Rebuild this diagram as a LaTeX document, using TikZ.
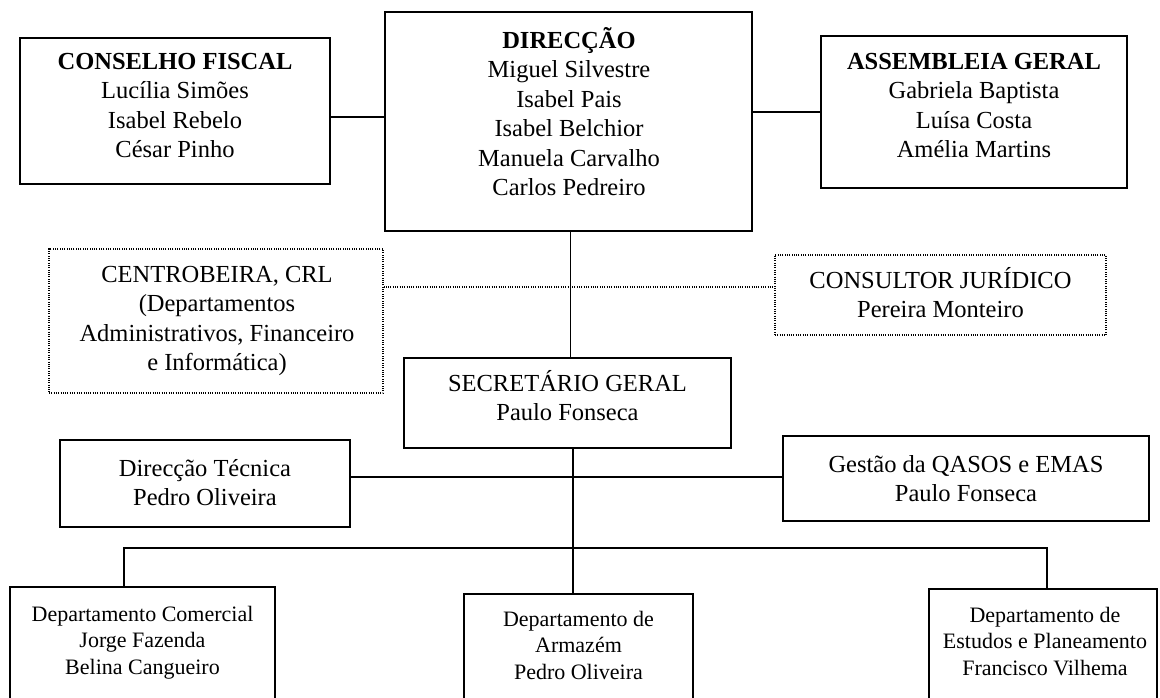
\documentclass[tikz,border=0pt]{standalone}
\usepackage{fontspec}
\setmainfont{Liberation Serif}
\begin{document}
\begin{tikzpicture}[x=1pt,y=-1pt,
  box/.style={draw, line width=1.7pt, inner sep=0pt},
  dbox/.style={draw, line width=1.1pt, dash pattern=on 1pt off 1.3pt, inner sep=0pt},
  txt/.style={anchor=north, inner sep=0pt, align=center, font=\fontsize{24.5}{29.5}\selectfont},
  stxt/.style={anchor=north, inner sep=0pt, align=center, font=\fontsize{22}{26.5}\selectfont},
  conn/.style={line width=1.7pt},
  thin/.style={line width=1pt},
  dline/.style={line width=1.1pt, dash pattern=on 1pt off 1.3pt}]
\useasboundingbox (0,0) rectangle (1160,698);
\fill[white] (0,0) rectangle (1160,698);
\clip (0,0) rectangle (1160,698);
% boxes
\node[box, minimum width=310pt, minimum height=146pt] (cf) at (175,111) {};
\node[box, minimum width=367pt, minimum height=219pt] (dir) at (568.5,121.5) {};
\node[box, minimum width=306pt, minimum height=152pt] (ag) at (974,112) {};
\node[dbox, minimum width=334pt, minimum height=144pt] (cb) at (216,321) {};
\node[dbox, minimum width=331pt, minimum height=80pt] (cj) at (940.5,295) {};
\node[box, minimum width=327pt, minimum height=90pt] (sg) at (567.5,403) {};
\node[box, minimum width=290pt, minimum height=87pt] (dt) at (205,483.5) {};
\node[box, minimum width=366pt, minimum height=85pt] (ge) at (966,478.5) {};
\node[box, minimum width=265pt, minimum height=140pt] (com) at (142.5,657) {};
\node[box, minimum width=229pt, minimum height=130pt] (arm) at (578.5,659) {};
\node[box, minimum width=228pt, minimum height=140pt] (est) at (1043,659) {};
% texts
\node[txt] (cft) at (175,53) {\textbf{CONSELHO FISCAL}\\Lucília Simões\\Isabel Rebelo\\César Pinho};
\node[txt] (dirt) at (569,27) {\textbf{DIRECÇÃO}\\Miguel Silvestre\\Isabel Pais\\Isabel Belchior\\Manuela Carvalho\\Carlos Pedreiro};
\node[txt] (agt) at (974,53) {\textbf{ASSEMBLEIA GERAL}\\Gabriela Baptista\\Luísa Costa\\Amélia Martins};
\node[txt] (cbt) at (217,266) {CENTROBEIRA, CRL\\(Departamentos\\Administrativos, Financeiro\\e Informática)};
\node[txt] (cjt) at (940.5,267) {CONSULTOR JURÍDICO\\Pereira Monteiro};
\node[txt] (sgt) at (567.5,370) {SECRETÁRIO GERAL\\Paulo Fonseca};
\node[txt] (dtt) at (205,459) {Direcção Técnica\\Pedro Oliveira};
\node[txt] (get) at (966,455) {Gestão da QASOS e EMAS\\Paulo Fonseca};
\node[stxt] (comt) at (142.5,606) {Departamento Comercial\\Jorge Fazenda\\Belina Cangueiro};
\node[stxt] (armt) at (578.5,611) {Departamento de\\Armazém\\Pedro Oliveira};
\node[stxt] (estt) at (1045,607) {Departamento de\\Estudos e Planeamento\\Francisco Vilhema};
% helper coordinates
\coordinate (y1) at (0,117);
\coordinate (dl) at (0,287);
\coordinate (v1) at (570,0);
\coordinate (v2) at (573,0);
\coordinate (h1) at (0,477);
\coordinate (b1) at (124,548);
\coordinate (b2) at (1047,548);
% connectors
\draw[conn] (cf.east |- y1) -- (dir.west |- y1);
\draw[conn] (ag.west) -- (ag.west -| dir.east);
\draw[dline] (cb.east |- dl) -- (cj.west |- dl);
\draw[thin] (dir.south -| v1) -- (sg.north -| v1);
\draw[conn] (sg.south -| v2) -- (arm.north -| v2);
\draw[conn] (dt.east |- h1) -- (ge.west |- h1);
\draw[conn] (com.north -| b1) -- (b1) -- (b2) -- (est.north -| b2);
\end{tikzpicture}
\end{document}
